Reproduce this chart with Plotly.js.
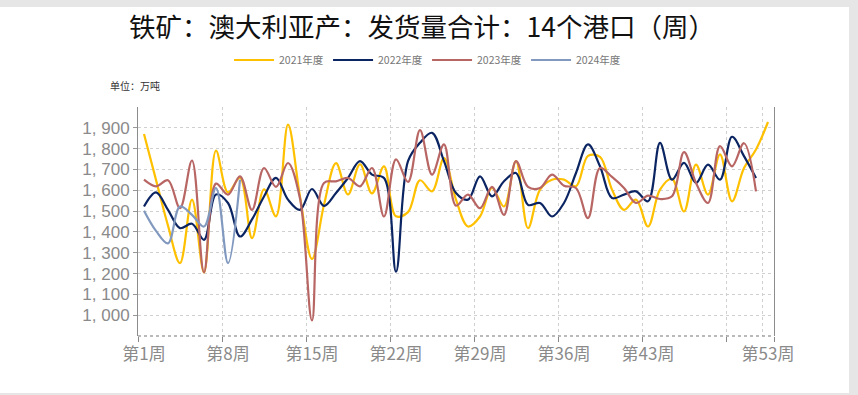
<!DOCTYPE html>
<html>
<head>
<meta charset="utf-8">
<script src="https://cdn.plot.ly/plotly-3.0.1.min.js"></script>
<style>
  html, body { margin: 0; padding: 0; background: #e6e6e6; width: 858px; height: 395px; overflow: hidden; }
  #chart { position: absolute; left: 0; top: 7px; width: 849px; height: 386px; background: #fff; }
</style>
</head>
<body>
<div id="chart"></div>
<script>
// ---- data ----
const weeks = Array.from({length: 53}, (_, i) => i + 1);
const weekLabels = ["第1周", "第8周", "第15周", "第22周", "第29周", "第36周", "第43周", "第53周"];
const weekLabelPos = [1, 8, 15, 22, 29, 36, 43, 53];

const y2021 = [1870, 1650, 1430, 1250, 1555, 1205, 1790, 1590, 1660, 1370,
               1605, 1475, 1915, 1570, 1270, 1530, 1730, 1580, 1725, 1585,
               1715, 1475, 1495, 1648, 1595, 1755, 1555, 1426, 1474, 1611,
               1522, 1740, 1418, 1603, 1651, 1651, 1619, 1765, 1760, 1603,
               1506, 1555, 1426, 1603, 1655, 1498, 1723, 1579, 1772, 1547,
               1707, 1796, 1928];
const y2022 = [1522, 1590, 1506, 1418, 1439, 1362, 1580, 1539, 1378, 1460,
               1570, 1660, 1555, 1506, 1606, 1525, 1587, 1659, 1740, 1675,
               1659, 1209, 1740, 1828, 1876, 1740, 1587, 1555, 1667, 1571,
               1643, 1683, 1530, 1539, 1474, 1539, 1683, 1820, 1715, 1563,
               1579, 1595, 1547, 1828, 1651, 1732, 1635, 1723, 1651, 1857,
               1764, 1659];
const y2023 = [1651, 1619, 1648, 1514, 1743, 1206, 1632, 1579, 1667, 1506,
               1707, 1616, 1731, 1560, 975, 1635, 1643, 1659, 1619, 1707,
               1474, 1748, 1640, 1889, 1675, 1820, 1526, 1579, 1514, 1616,
               1482, 1740, 1616, 1611, 1675, 1622, 1611, 1466, 1707, 1664,
               1611, 1539, 1574, 1558, 1571, 1783, 1635, 1539, 1812, 1715,
               1826, 1595];
const y2024 = [1502, 1405, 1345, 1522, 1482, 1426, 1611, 1250, 1651];

const seriesNames = ["2021年度", "2022年度", "2023年度", "2024年度"];
const seriesData = [y2021, y2022, y2023, y2024];
const seriesColors = ["#FFC000", "#0B2462", "#B86664", "#8299BF"];

const yTickVals = [1000, 1100, 1200, 1300, 1400, 1500, 1600, 1700, 1800, 1900];
const yTickText = ["1, 000", "1, 100", "1, 200", "1, 300", "1, 400", "1, 500", "1, 600", "1, 700", "1, 800", "1, 900"];
const boundaryTicks = [0.5, 7.5, 14.5, 21.5, 28.5, 35.5, 42.5, 49.5, 53.5];

const titleText = "铁矿：澳大利亚产：发货量合计：14个港口（周）";
const unitText = "单位：万吨";

// ---- chart ----
const FONT = "Noto Sans CJK SC, sans-serif";
const traces = seriesData.map((d, i) => ({
  x: weeks.slice(0, d.length),
  y: d,
  name: seriesNames[i],
  type: "scatter",
  mode: "lines",
  line: {color: seriesColors[i], width: 2.2, shape: "spline", smoothing: 1},
  hoverinfo: "skip"
}));
// invisible trace to activate overlay axis for boundary ticks / grid
traces.push({x: [1], y: [1500], xaxis: "x2", yaxis: "y", mode: "markers",
  marker: {opacity: 0}, showlegend: false, hoverinfo: "skip"});

const layout = {
  width: 849, height: 386,
  margin: {l: 138.3, r: 74.7, t: 100, b: 57},
  paper_bgcolor: "#ffffff",
  plot_bgcolor: "#ffffff",
  font: {family: FONT, color: "#808080"},
  title: {text: titleText, font: {family: FONT, size: 26.5, color: "#111"},
          x: 0.497, xref: "container", xanchor: "center",
          y: 1 - 21 / 386, yref: "container", yanchor: "middle"},
  showlegend: true,
  legend: {orientation: "h", x: 0.503, xref: "container", xanchor: "center",
           y: 1 - 53 / 386, yref: "container", yanchor: "middle",
           font: {size: 10.5, color: "#777"}, itemwidth: 40, entrywidth: 44, entrywidthmode: "pixels",
           bgcolor: "rgba(0,0,0,0)"},
  xaxis: {range: [0.5, 53.5], tickvals: weekLabelPos, ticktext: weekLabels,
          ticks: "", showgrid: false, showline: false, zeroline: false,
          tickfont: {size: 17, color: "#8a8a8a"}, ticklabelstandoff: 6},
  xaxis2: {overlaying: "x", range: [0.5, 53.5], tickvals: boundaryTicks,
           showticklabels: false, ticks: "outside", ticklen: 5, tickcolor: "#888",
           showgrid: true, gridcolor: "#d0d0d0", griddash: "dot", gridwidth: 1,
           minor: {tickvals: [52.5], showgrid: true, gridcolor: "#d0d0d0", griddash: "dot", ticks: ""},
           showline: false, zeroline: false},
  yaxis: {range: [900, 2000], tickvals: yTickVals, ticktext: yTickText,
          ticks: "outside", ticklen: 4, tickcolor: "#999",
          showgrid: true, gridcolor: "#d0d0d0", griddash: "dot", gridwidth: 1,
          showline: true, linecolor: "#8c8c8c", linewidth: 1, mirror: true,
          zeroline: false, tickfont: {size: 17, color: "#8a8a8a", family: "Liberation Sans, Arial, sans-serif"}},
  shapes: [{type: "line", xref: "paper", yref: "paper", x0: 0, x1: 1, y0: 0, y1: 0,
            line: {color: "#777", width: 1.2, dash: "dot"}}],
  annotations: [{text: unitText, xref: "paper", yref: "paper",
                 x: (108 - 138.3) / 636, y: 1 + 21 / 229, xanchor: "left", yanchor: "middle",
                 showarrow: false, font: {size: 10, color: "#333", family: FONT}}]
};

Plotly.newPlot("chart", traces, layout, {displayModeBar: false, staticPlot: true});
</script>
</body>
</html>
